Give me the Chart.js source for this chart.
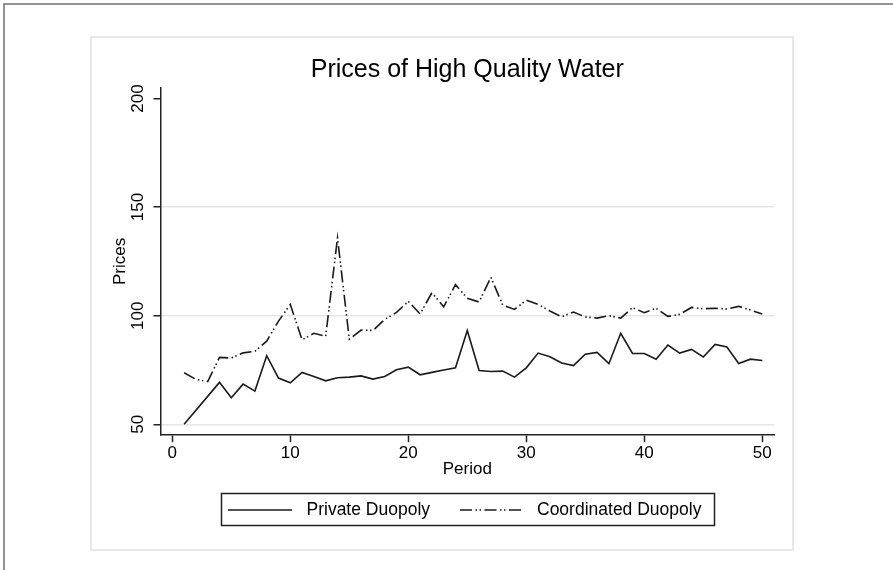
<!DOCTYPE html>
<html>
<head>
<meta charset="utf-8">
<title>Prices of High Quality Water</title>
<script src="https://cdn.jsdelivr.net/npm/chart.js@4.4.1/dist/chart.umd.min.js"></script>
<style>
  body { margin: 0; background: #fff; }
  canvas { display: block; }
</style>
</head>
<body>
<canvas id="waterChart" width="893" height="570"></canvas>
<script>
// data, one value per period
const periods = [1, 2, 3, 4, 5, 6, 7, 8, 9, 10, 11, 12, 13, 14, 15, 16, 17, 18, 19, 20,
  21, 22, 23, 24, 25, 26, 27, 28, 29, 30, 31, 32, 33, 34, 35, 36, 37, 38, 39, 40,
  41, 42, 43, 44, 45, 46, 47, 48, 49, 50];
const privateDuopoly = [50, null, null, 69.3, 62.2, 68.5, 65.3, 81.6, 71.3, 69.1,
  73.9, 72.0, 70.0, 71.4, 71.7, 72.3, 70.8, 72.0, 75.1, 76.3,
  72.8, 73.9, 75.0, 76.0, 93.2, 74.8, 74.3, 74.5, 71.7, 76.0,
  82.8, 81.1, 78.2, 77.0, 82.3, 83.1, 77.9, 91.9, 82.6, 82.6,
  80.0, 86.5, 82.8, 84.5, 81.0, 86.8, 85.6, 78.0, 80.0, 79.4];
const coordinatedDuopoly = [73.7, 70.7, 69.7, 80.8, 80.5, 82.9, 83.6, 88.3, 97.5, 105.2,
  88.9, 91.9, 90.5, 135.8, 89.2, 93.4, 93.2, 98.3, 101.5, 106.6,
  100.8, 110.6, 104.1, 114.3, 108.0, 106.3, 117.7, 104.9, 102.9, 107.2,
  105.2, 102.2, 99.5, 101.7, 99.4, 98.9, 100.0, 98.9, 103.7, 101.4,
  103.4, 99.7, 100.6, 103.8, 103.2, 103.4, 103.1, 104.3, 102.6, 100.8];
const xTicks = [0, 10, 20, 30, 40, 50];
const yTicks = [50, 100, 150, 200];

const fontFamily = "'Liberation Sans', Arial, Helvetica, sans-serif";
const dashDot = [12, 3.5, 1.5, 2.5, 1.5, 3.5];

// white page, outer frame and the light plot region box
const frames = {
  id: 'frames',
  beforeDraw(chart) {
    const c = chart.ctx;
    c.save();
    c.fillStyle = '#fff';
    c.fillRect(0, 0, chart.width, chart.height);
    c.strokeStyle = '#e8e8e8';
    c.lineWidth = 2;
    c.strokeRect(91, 37, 702, 513);
    c.strokeStyle = '#707070';
    c.lineWidth = 1.5;
    c.beginPath();
    c.moveTo(4, chart.height);
    c.lineTo(4, 4);
    c.lineTo(chart.width, 4);
    c.stroke();
    c.restore();
  }
};

// stata style legend under the plot
const legendBox = {
  id: 'legendBox',
  afterDraw(chart) {
    const c = chart.ctx;
    const ds = chart.data.datasets;
    c.save();
    c.strokeStyle = '#222';
    c.lineWidth = 1.5;
    c.strokeRect(221.5, 493.5, 493, 32);
    c.font = '17.5px ' + fontFamily;
    c.fillStyle = '#000';
    c.textBaseline = 'alphabetic';
    const items = [
      { d: ds[0], x0: 228, x1: 292, tx: 306.5 },
      { d: ds[1], x0: 460, x1: 524, tx: 537 }
    ];
    items.forEach(it => {
      c.setLineDash(it.d.borderDash || []);
      c.lineWidth = it.d.borderWidth;
      c.strokeStyle = it.d.borderColor;
      c.beginPath();
      c.moveTo(it.x0, 510);
      c.lineTo(it.x1, 510);
      c.stroke();
      c.setLineDash([]);
      c.fillText(it.d.label, it.tx, 514.5);
    });
    c.restore();
  }
};

const ctx = document.getElementById('waterChart').getContext('2d');
const chart = new Chart(ctx, {
  type: 'line',
  data: {
    labels: periods,
    datasets: [
      {
        label: 'Private Duopoly',
        data: privateDuopoly,
        borderColor: '#1a1a1a',
        borderWidth: 1.6,
        pointRadius: 0,
        tension: 0,
        spanGaps: true,
        fill: false
      },
      {
        label: 'Coordinated Duopoly',
        data: coordinatedDuopoly,
        borderColor: '#1a1a1a',
        borderWidth: 1.6,
        borderDash: dashDot,
        pointRadius: 0,
        tension: 0,
        fill: false
      }
    ]
  },
  options: {
    responsive: false,
    animation: false,
    devicePixelRatio: 1,
    layout: {
      padding: { left: 100, right: 118.9, top: 0, bottom: 84.84 }
    },
    plugins: {
      legend: { display: false },
      tooltip: { enabled: false },
      title: {
        display: true,
        text: 'Prices of High Quality Water',
        fullSize: false,
        color: '#000',
        font: { family: fontFamily, size: 25, weight: 'normal', lineHeight: 1.2 },
        padding: { top: 55.6, bottom: 2.04 }
      }
    },
    scales: {
      x: {
        type: 'linear',
        min: -1,
        max: 51,
        afterBuildTicks: s => { s.ticks = xTicks.map(v => ({ value: v })); },
        afterFit: s => { s.height = 50; },
        grid: { drawOnChartArea: false, drawTicks: true, tickLength: 7, tickColor: '#222', tickWidth: 1.5 },
        border: { color: '#222', width: 1.5 },
        ticks: {
          color: '#000',
          padding: 1,
          maxRotation: 0,
          autoSkip: false,
          font: { family: fontFamily, size: 17 }
        },
        title: {
          display: true,
          text: 'Period',
          color: '#000',
          font: { family: fontFamily, size: 17 },
          padding: { top: 0, bottom: 5.8 }
        }
      },
      y: {
        min: 45,
        max: 205,
        afterBuildTicks: s => { s.ticks = yTicks.map(v => ({ value: v })); },
        afterFit: s => { s.width = 60.5; },
        grid: {
          color: c => (c.tick && c.tick.value === 200) ? 'rgba(0,0,0,0)' : '#e6e6e6',
          lineWidth: 1.5,
          drawTicks: true,
          tickLength: 7,
          tickColor: '#222',
          tickWidth: 1.5
        },
        border: { color: '#222', width: 1.5 },
        ticks: {
          color: '#000',
          padding: 1.3,
          minRotation: 90,
          maxRotation: 90,
          crossAlign: 'center',
          font: { family: fontFamily, size: 17 }
        },
        title: {
          display: true,
          text: 'Prices',
          color: '#000',
          font: { family: fontFamily, size: 17 },
          padding: { top: 9.8, bottom: 0 }
        }
      }
    }
  },
  plugins: [frames, legendBox]
});
</script>
</body>
</html>
